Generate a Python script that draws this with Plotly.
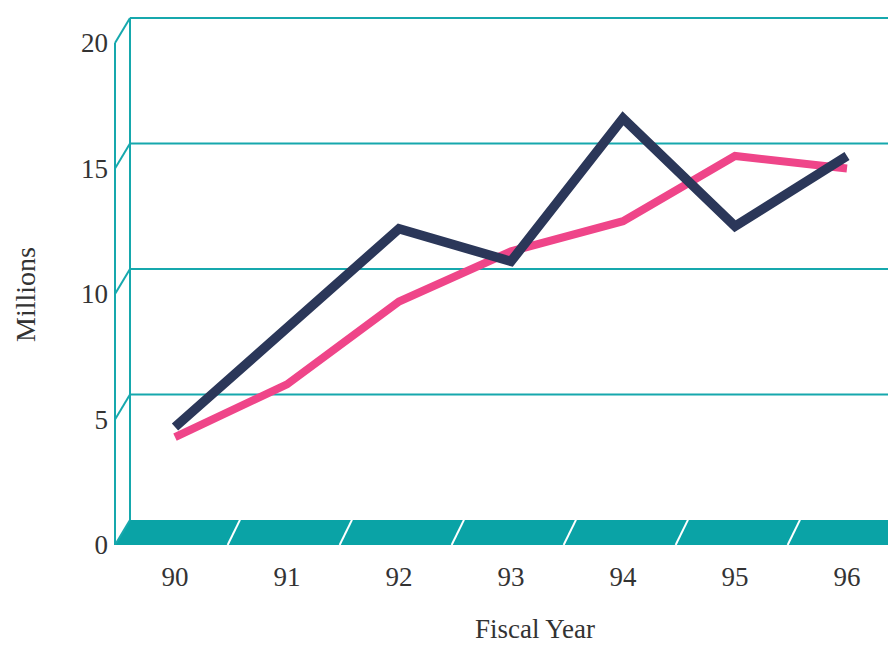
import plotly.graph_objects as go

# Fiscal years and revenue series (millions)
fiscal_years = [90, 91, 92, 93, 94, 95, 96]
year_labels = ["90", "91", "92", "93", "94", "95", "96"]
navy_series = [4.7, 8.7, 12.6, 11.3, 17.0, 12.7, 15.5]
pink_series = [4.3, 6.4, 9.7, 11.7, 12.9, 15.5, 15.0]
y_ticks = [0, 5, 10, 15, 20]

TEAL = "#16a8ad"
FLOOR = "#0aa3a6"
NAVY = "#2b3759"
PINK = "#ef4589"
TEXT = "#333333"
FONT = "Liberation Serif"

# plot window (data units); 112 px per year, 25.1 px per million
PX_PER_YEAR = 112.0
LEFT_PX = 112
X_MIN = 90 - (175 - LEFT_PX) / PX_PER_YEAR
X_MAX = 90 + (888 - 175) / PX_PER_YEAR
Y_MIN, Y_MAX = 0.0, 545 / 25.1
# front-left edge of the box and depth offset of the back wall
FRONT_X = 90 - 60 / PX_PER_YEAR
DX, DY = 15 / PX_PER_YEAR, 1.0

shapes = []
line_style = dict(color=TEAL, width=2)

# floor slab
shapes.append(dict(
    type="path", layer="below", line=dict(width=0), fillcolor=FLOOR,
    path=f"M {FRONT_X},{0} L {X_MAX + 1},{0} L {X_MAX + 1},{DY} L {FRONT_X + DX},{DY} Z",
))
# separators on the floor between years
for yr in fiscal_years[:-1]:
    x0 = yr + 0.47
    shapes.append(dict(type="line", layer="below", x0=x0, y0=0, x1=x0 + 0.11, y1=DY,
                       line=dict(color="white", width=2)))

# back-wall gridlines and left-side connectors
for v in y_ticks:
    if v > 0:
        shapes.append(dict(type="line", layer="below", x0=FRONT_X + DX, y0=v + DY,
                           x1=X_MAX + 1, y1=v + DY, line=line_style))
    shapes.append(dict(type="line", layer="below", x0=FRONT_X, y0=v,
                       x1=FRONT_X + DX, y1=v + DY, line=line_style))

# front and back left edges
shapes.append(dict(type="line", layer="below", x0=FRONT_X, y0=0, x1=FRONT_X, y1=20, line=line_style))
shapes.append(dict(type="line", layer="below", x0=FRONT_X + DX, y0=DY,
                   x1=FRONT_X + DX, y1=20 + DY, line=line_style))

fig = go.Figure()
fig.add_trace(go.Scatter(x=fiscal_years, y=pink_series, mode="lines",
                         line=dict(color=PINK, width=8), showlegend=False))
fig.add_trace(go.Scatter(x=fiscal_years, y=navy_series, mode="lines",
                         line=dict(color=NAVY, width=9.5), showlegend=False))

fig.update_layout(
    width=888, height=645,
    margin=dict(l=LEFT_PX, r=0, t=0, b=100),
    paper_bgcolor="white", plot_bgcolor="white",
    shapes=shapes,
    font=dict(family=FONT, color=TEXT, size=27),
    xaxis=dict(range=[X_MIN, X_MAX], tickvals=fiscal_years, ticktext=year_labels,
               showgrid=False, zeroline=False, showline=False, ticks="",
               ticklabelstandoff=13, tickfont=dict(size=27, family=FONT, color=TEXT)),
    yaxis=dict(range=[Y_MIN, Y_MAX], tickvals=y_ticks, ticktext=[str(v) for v in y_ticks],
               showgrid=False, zeroline=False, showline=False, ticks="",
               ticklabelstandoff=3, tickfont=dict(size=27, family=FONT, color=TEXT)),
    annotations=[
        dict(text="Millions", xref="paper", yref="paper",
             x=(25 - LEFT_PX) / (888 - LEFT_PX), y=(545 - 295) / 545,
             textangle=-90, showarrow=False, xanchor="center", yanchor="middle",
             font=dict(size=28, family=FONT, color=TEXT)),
        dict(text="Fiscal Year", xref="paper", yref="paper",
             x=(535 - LEFT_PX) / (888 - LEFT_PX), y=(545 - 629) / 545,
             showarrow=False, xanchor="center", yanchor="middle",
             font=dict(size=27, family=FONT, color=TEXT)),
    ],
)

fig.write_html("out.html")
